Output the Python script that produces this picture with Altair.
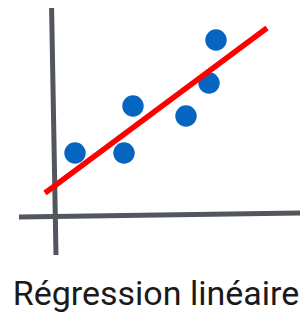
import altair as alt
import pandas as pd

# Scatter points (data units)
pt_x = [1.1, 3.55, 4.0, 6.65, 7.8, 8.15]
pt_y = [3.15, 3.15, 5.5, 5.0, 6.65, 8.8]

# Fitted line endpoints
line_x = [-0.4, 10.7]
line_y = [1.15, 9.4]

# Hand-drawn axis segments
vaxis_x = [-0.075, 0.15]
vaxis_y = [10.65, -1.95]
haxis_x = [-1.7, 12.75]
haxis_y = [-0.05, 0.15]

label_text = ["Régression linéaire"]
label_x = [5.15]
label_y = [-4.45]

xs = alt.Scale(domain=[-2.25, 12.35], nice=False, zero=False)
ys = alt.Scale(domain=[-4.85, 10.4], nice=False, zero=False)

gray = "#52575D"

vaxis = alt.Chart(pd.DataFrame({"x": vaxis_x, "y": vaxis_y})).mark_line(
    color=gray, strokeWidth=5
).encode(
    x=alt.X("x:Q", scale=xs, axis=None),
    y=alt.Y("y:Q", scale=ys, axis=None),
)

haxis = alt.Chart(pd.DataFrame({"x": haxis_x, "y": haxis_y})).mark_line(
    color=gray, strokeWidth=5
).encode(
    x=alt.X("x:Q", scale=xs, axis=None),
    y=alt.Y("y:Q", scale=ys, axis=None),
)

points = alt.Chart(pd.DataFrame({"x": pt_x, "y": pt_y})).mark_circle(
    color="#0565C0", size=460, opacity=1
).encode(
    x=alt.X("x:Q", scale=xs, axis=None),
    y=alt.Y("y:Q", scale=ys, axis=None),
)

fit = alt.Chart(pd.DataFrame({"x": line_x, "y": line_y})).mark_line(
    color="#FF0000", strokeWidth=5.5
).encode(
    x=alt.X("x:Q", scale=xs, axis=None),
    y=alt.Y("y:Q", scale=ys, axis=None),
)

label = alt.Chart(pd.DataFrame({"t": label_text, "x": label_x, "y": label_y})).mark_text(
    font="Roboto", fontSize=34, color="#1a1a1a", align="center", baseline="alphabetic"
).encode(
    x=alt.X("x:Q", scale=xs, axis=None),
    y=alt.Y("y:Q", scale=ys, axis=None),
    text="t:N",
)

chart = alt.layer(haxis, vaxis, points, fit, label).properties(
    width=292, height=305, padding=0,
    autosize=alt.AutoSizeParams(type="none"),
).configure_view(stroke=None)

chart.save("out.html", embed_options={"renderer": "svg", "actions": False})
